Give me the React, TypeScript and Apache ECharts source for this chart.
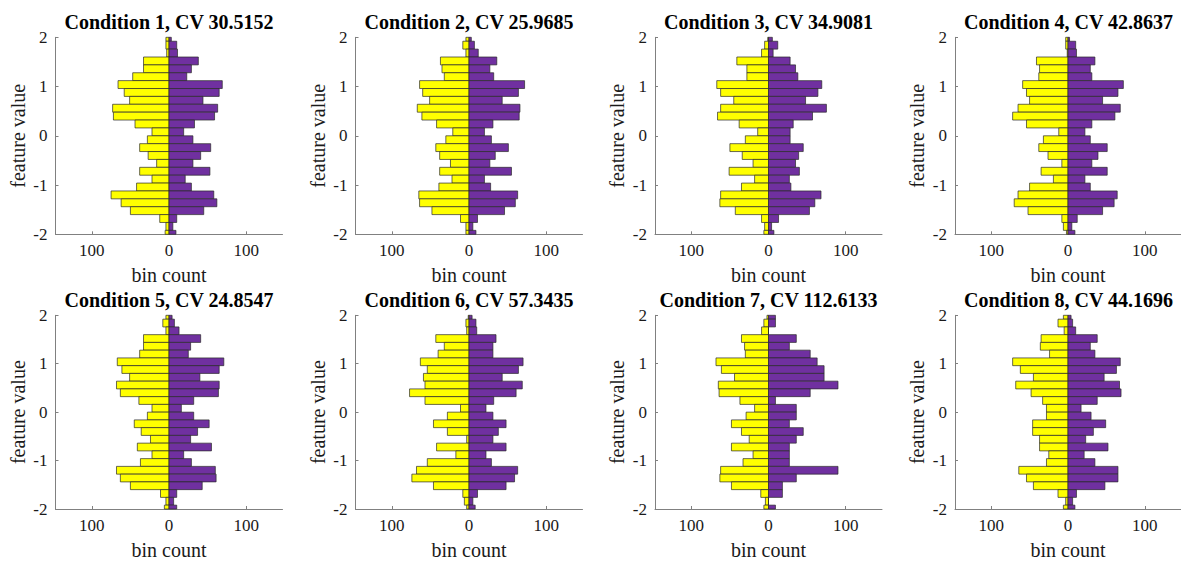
import React, { useEffect, useRef } from "react";
import * as echarts from "echarts";

// Bin layout: edges at multiples of 0.16 from 2.08 down to -2.08 (outer bins clipped to ±2).
const BIN_WIDTH = 0.16;
const TOP_EDGE = 2.08;
const Y_MIN = -2;
const Y_MAX = 2;
const X_LIMIT = 147;
const X_TICKS = [-100, 0, 100];
const Y_TICKS = [-2, -1, 0, 1, 2];

const titles = [
  "Condition 1, CV 30.5152",
  "Condition 2, CV 25.9685",
  "Condition 3, CV 34.9081",
  "Condition 4, CV 42.8637",
  "Condition 5, CV 24.8547",
  "Condition 6, CV 57.3435",
  "Condition 7, CV 112.6133",
  "Condition 8, CV 44.1696",
];

// counts per bin, listed from the top bin (1.92..2.08) to the bottom bin (-2.08..-1.92)
const yellow1 = [4, 4, 3, 33, 33, 47, 66, 58, 51, 73, 72, 44, 22, 28, 38, 27, 16, 38, 22, 42, 75, 62, 50, 12, 4, 5];
const purple1 = [3, 10, 11, 38, 29, 23, 69, 65, 44, 63, 59, 33, 19, 31, 54, 41, 31, 53, 21, 29, 58, 62, 45, 10, 5, 9];
const yellow2 = [4, 8, 4, 37, 35, 32, 64, 60, 51, 67, 61, 42, 21, 30, 43, 38, 24, 38, 22, 39, 65, 64, 48, 11, 4, 4];
const purple2 = [3, 7, 12, 36, 27, 32, 72, 64, 43, 66, 65, 31, 20, 29, 51, 34, 27, 55, 20, 28, 63, 60, 46, 11, 5, 9];
const yellow3 = [1, 5, 9, 41, 28, 28, 67, 62, 45, 62, 66, 38, 14, 30, 50, 34, 20, 51, 18, 35, 62, 63, 43, 9, 5, 6];
const purple3 = [5, 12, 6, 28, 35, 38, 69, 64, 48, 75, 57, 32, 28, 28, 45, 39, 35, 40, 27, 29, 68, 60, 53, 13, 4, 7];
const yellow4 = [3, 3, 1, 41, 37, 38, 59, 54, 50, 65, 72, 54, 12, 32, 38, 26, 8, 35, 19, 50, 65, 70, 52, 8, 6, 2];
const purple4 = [2, 10, 11, 35, 29, 31, 72, 65, 45, 68, 61, 31, 22, 29, 51, 39, 31, 51, 22, 29, 64, 60, 45, 12, 5, 9];
const yellow5 = [4, 8, 4, 33, 33, 38, 67, 61, 51, 68, 63, 39, 22, 28, 45, 36, 24, 41, 22, 37, 68, 63, 50, 11, 4, 6];
const purple5 = [4, 7, 13, 41, 28, 25, 71, 65, 40, 65, 64, 32, 16, 32, 52, 37, 28, 55, 19, 29, 60, 61, 43, 10, 6, 10];
const yellow6 = [1, 4, 3, 43, 32, 40, 63, 54, 59, 57, 77, 57, 11, 28, 46, 28, 3, 42, 17, 54, 68, 74, 46, 8, 6, 3];
const purple6 = [4, 9, 10, 35, 31, 31, 70, 64, 43, 69, 61, 32, 22, 31, 48, 38, 31, 48, 22, 29, 63, 59, 48, 11, 5, 8];
const yellow7 = [2, 6, 9, 35, 31, 30, 68, 61, 44, 65, 64, 37, 18, 29, 48, 35, 25, 48, 20, 33, 62, 63, 48, 10, 4, 6];
const purple7 = [9, 9, 0, 36, 27, 54, 63, 72, 72, 90, 54, 9, 36, 36, 27, 45, 36, 27, 27, 27, 90, 36, 18, 18, 0, 9];
const yellow8 = [6, 13, 5, 35, 36, 24, 72, 62, 45, 68, 48, 33, 28, 28, 46, 46, 37, 37, 25, 28, 64, 54, 45, 13, 3, 6];
const purple8 = [4, 6, 10, 38, 29, 35, 68, 63, 47, 67, 69, 38, 17, 30, 49, 33, 23, 52, 21, 35, 65, 65, 48, 11, 6, 9];

const yellowSets = [yellow1, yellow2, yellow3, yellow4, yellow5, yellow6, yellow7, yellow8];
const purpleSets = [purple1, purple2, purple3, purple4, purple5, purple6, purple7, purple8];

const YELLOW = "#FFFF00";
const PURPLE = "#7030A0";
const EDGE = "#2a2a2a";
const AXIS_COLOR = "#808080";
const TEXT_COLOR = "#1a1a1a";
const FONT = "'Liberation Serif', 'Times New Roman', serif";

// layout
const COL_CENTERS = [169, 469, 768.5, 1068.5];
const HALF_W = 113.5;
const ROW_TOPS = [37.3, 315.3];
const PLOT_H = 197;

function toBins(counts: number[], sign: number) {
  return counts.map((c, i) => {
    const hi = Math.min(Y_MAX, TOP_EDGE - BIN_WIDTH * i);
    const lo = Math.max(Y_MIN, TOP_EDGE - BIN_WIDTH * (i + 1));
    return [lo, hi, sign * c];
  });
}

function makeRender(fill: string) {
  return (params: any, api: any) => {
    const lo = api.value(0);
    const hi = api.value(1);
    const v = api.value(2);
    const p0 = api.coord([0, hi]);
    const p1 = api.coord([v, lo]);
    return {
      type: "rect",
      shape: {
        x: Math.min(p0[0], p1[0]),
        y: p0[1],
        width: Math.abs(p1[0] - p0[0]),
        height: p1[1] - p0[1],
      },
      style: { fill, stroke: EDGE, lineWidth: 0.7 },
    };
  };
}

export default function App() {
  const ref = useRef<HTMLDivElement>(null);
  useEffect(() => {
    if (!ref.current) return;
    const chart = echarts.init(ref.current, undefined, { renderer: "svg" });
    const grids: any[] = [];
    const xAxes: any[] = [];
    const yAxes: any[] = [];
    const series: any[] = [];
    const graphics: any[] = [];
    for (let k = 0; k < 8; k++) {
      const row = Math.floor(k / 4);
      const col = k % 4;
      const cx = COL_CENTERS[col];
      const top = ROW_TOPS[row];
      grids.push({ left: cx - HALF_W, top, width: HALF_W * 2, height: PLOT_H, containLabel: false });
      xAxes.push({
        type: "value",
        gridIndex: k,
        min: -X_LIMIT,
        max: X_LIMIT,
        name: "bin count",
        nameLocation: "middle",
        nameGap: 31,
        nameTextStyle: { fontFamily: FONT, fontSize: 20, color: TEXT_COLOR },
        axisLine: { show: true, onZero: false, lineStyle: { color: AXIS_COLOR, width: 1 } },
        axisTick: { show: true, inside: true, length: 3, customValues: X_TICKS, lineStyle: { color: AXIS_COLOR } },
        axisLabel: {
          show: true,
          customValues: X_TICKS,
          margin: 8,
          fontFamily: FONT,
          fontSize: 17,
          color: TEXT_COLOR,
          formatter: (v: number) => String(Math.abs(v)),
        },
        splitLine: { show: false },
      });
      yAxes.push({
        type: "value",
        gridIndex: k,
        min: Y_MIN,
        max: Y_MAX,
        interval: 1,
        name: "feature value",
        nameLocation: "middle",
        nameGap: 28,
        nameRotate: 90,
        nameTextStyle: { fontFamily: FONT, fontSize: 20, color: TEXT_COLOR },
        axisLine: { show: true, onZero: false, lineStyle: { color: AXIS_COLOR, width: 1 } },
        axisTick: { show: true, inside: true, length: 3, lineStyle: { color: AXIS_COLOR } },
        axisLabel: {
          show: true,
          margin: 8,
          fontFamily: FONT,
          fontSize: 17,
          color: TEXT_COLOR,
          formatter: (v: number) => (Y_TICKS.includes(v) ? String(v) : ""),
        },
        splitLine: { show: false },
      });
      series.push({
        type: "custom",
        xAxisIndex: k,
        yAxisIndex: k,
        dimensions: ["lo", "hi", "count"],
        encode: { x: 2, y: [0, 1] },
        renderItem: makeRender(YELLOW),
        data: toBins(yellowSets[k], -1),
      });
      series.push({
        type: "custom",
        xAxisIndex: k,
        yAxisIndex: k,
        dimensions: ["lo", "hi", "count"],
        encode: { x: 2, y: [0, 1] },
        renderItem: makeRender(PURPLE),
        data: toBins(purpleSets[k], 1),
      });
      graphics.push({
        type: "text",
        x: cx,
        y: top - 15,
        style: {
          text: titles[k],
          fontFamily: FONT,
          fontSize: 20,
          fontWeight: "bold",
          fill: "#000",
          textAlign: "center",
          textVerticalAlign: "middle",
        },
      });
    }
    chart.setOption({
      animation: false,
      backgroundColor: "#ffffff",
      grid: grids,
      xAxis: xAxes,
      yAxis: yAxes,
      series,
      graphic: graphics,
    });
    return () => chart.dispose();
  }, []);
  return (
    <div
      ref={ref}
      style={{ position: "fixed", left: 0, top: 0, width: 1181, height: 561, background: "#fff" }}
    />
  );
}
